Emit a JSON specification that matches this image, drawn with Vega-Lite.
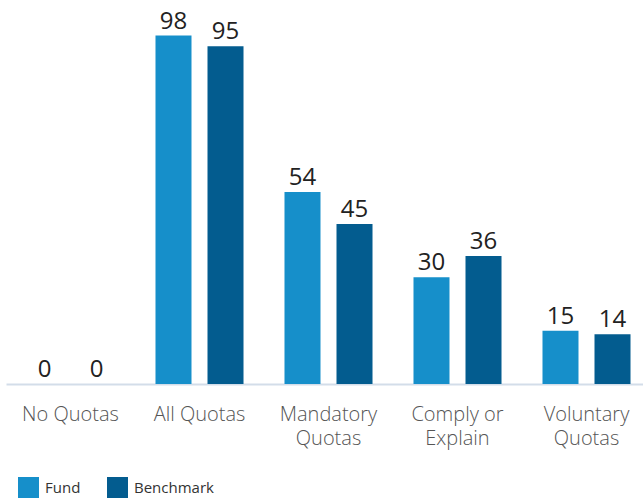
{
  "$schema": "https://vega.github.io/schema/vega-lite/v6.json",
  "autosize": "none",
  "width": 637,
  "height": 384,
  "padding": {"left": 6, "top": 0, "right": 0, "bottom": 115},
  "background": "white",
  "data": {
    "values": [
      {"category": "No Quotas", "series": "Fund", "value": 0},
      {"category": "No Quotas", "series": "Benchmark", "value": 0},
      {"category": "All Quotas", "series": "Fund", "value": 98},
      {"category": "All Quotas", "series": "Benchmark", "value": 95},
      {"category": "Mandatory Quotas", "series": "Fund", "value": 54},
      {"category": "Mandatory Quotas", "series": "Benchmark", "value": 45},
      {"category": "Comply or Explain", "series": "Fund", "value": 30},
      {"category": "Comply or Explain", "series": "Benchmark", "value": 36},
      {"category": "Voluntary Quotas", "series": "Fund", "value": 15},
      {"category": "Voluntary Quotas", "series": "Benchmark", "value": 14}
    ]
  },
  "encoding": {
    "x": {
      "field": "category",
      "type": "nominal",
      "sort": null,
      "scale": {"range": [0, 645], "paddingInner": 0, "paddingOuter": 0},
      "axis": {
        "title": null,
        "labelAngle": 0,
        "ticks": false,
        "domainColor": "#d3dde9",
        "domainWidth": 2,
        "labelFont": "Open Sans",
        "labelFontSize": 20,
        "labelFontWeight": 300,
        "labelColor": "#555555",
        "labelPadding": 20,
        "labelLineHeight": 24,
        "labelBaseline": "top",
        "labelExpr": "datum.value == 'Comply or Explain' ? ['Comply or', 'Explain'] : (datum.value == 'Mandatory Quotas' ? ['Mandatory', 'Quotas'] : (datum.value == 'Voluntary Quotas' ? ['Voluntary', 'Quotas'] : datum.value))"
      }
    },
    "xOffset": {
      "field": "series",
      "type": "nominal",
      "sort": ["Fund", "Benchmark"],
      "scale": {"paddingInner": 0.3077, "paddingOuter": 0.394}
    },
    "y": {
      "field": "value",
      "type": "quantitative",
      "scale": {"domain": [0, 108]},
      "axis": null
    }
  },
  "layer": [
    {
      "mark": {"type": "bar"},
      "encoding": {
        "color": {
          "field": "series",
          "type": "nominal",
          "sort": ["Fund", "Benchmark"],
          "scale": {"domain": ["Fund", "Benchmark"], "range": ["#168fca", "#035c8f"]},
          "legend": {
            "title": null,
            "orient": "none",
            "direction": "horizontal",
            "legendX": 12,
            "legendY": 477,
            "symbolType": "square",
            "symbolSize": 441,
            "symbolStrokeWidth": 0,
            "symbolOpacity": 1,
            "labelFont": "Open Sans",
            "labelFontSize": 15,
            "labelColor": "#333333",
            "columnPadding": 26,
            "labelOffset": 6
          }
        }
      }
    },
    {
      "mark": {"type": "text", "baseline": "alphabetic", "dy": -7, "font": "Open Sans", "fontSize": 24, "color": "#222222"},
      "encoding": {"text": {"field": "value", "type": "quantitative"}}
    }
  ],
  "config": {"view": {"stroke": null}}
}
